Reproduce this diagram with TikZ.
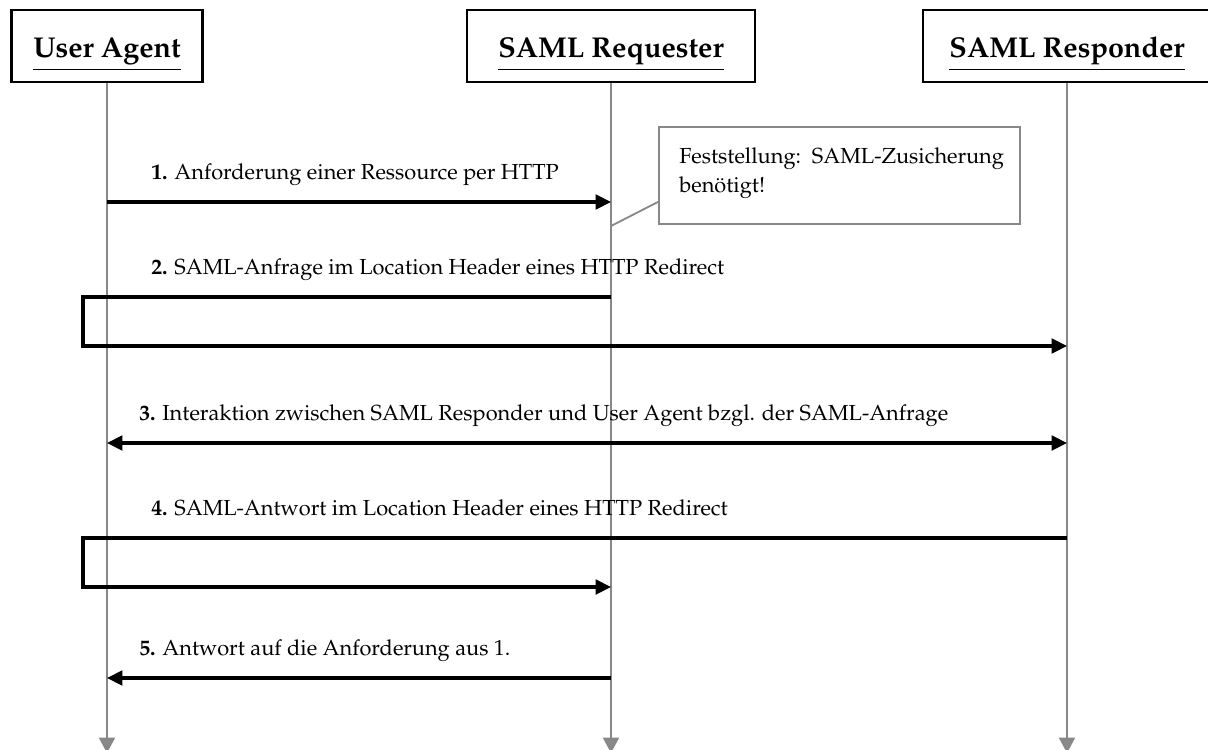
\documentclass[tikz,border=0pt]{standalone}
\usepackage[T1]{fontenc}
\usepackage{mathpazo}
\usetikzlibrary{arrows.meta}
\definecolor{lifegray}{RGB}{136,136,136}
\tikzset{
  actor/.style={draw=black, line width=1.6pt, minimum height=51pt, inner sep=0pt, text height=20pt, text depth=3pt, font=\fontsize{20.4}{24}\selectfont\bfseries},
  lifeline/.style={draw=lifegray, line width=1.3pt, -{Triangle[length=11pt,width=11.5pt]}},
  msg/.style={draw=black, line width=2.2pt, line join=miter, -{Triangle[length=11pt,width=10.5pt]}},
  lbl/.style={anchor=base west, inner sep=0pt, font=\fontsize{15.5}{18}\selectfont},
  note/.style={draw=lifegray, line width=1.3pt, fill=white, minimum width=257pt, minimum height=69pt, inner sep=0pt}
}
\begin{document}
\begin{tikzpicture}[x=0.025cm, y=-0.025cm, line cap=butt]
  \useasboundingbox (0,0) rectangle (1208,749);

  % Teilnehmer
  \node[actor, minimum width=136pt] (ua) at (107,46) {\underline{User Agent}};
  \node[actor, minimum width=205pt] (rq) at (611,46) {\underline{SAML Requester}};
  \node[actor, minimum width=205pt] (rs) at (1067,46) {\underline{SAML Responder}};

  % Lebenslinien
  \coordinate (bottom) at (0,753);
  \draw[lifeline] (ua.south) -- (ua |- bottom);
  \draw[lifeline] (rq.south) -- (rq |- bottom);
  \draw[lifeline] (rs.south) -- (rs |- bottom);

  % Hoehen der Nachrichten
  \coordinate (m1) at (0,202);
  \coordinate (m2a) at (83,297);
  \coordinate (m2b) at (83,346);
  \coordinate (m3) at (0,443);
  \coordinate (m4a) at (83,538);
  \coordinate (m4b) at (83,587);
  \coordinate (m5) at (0,678);

  % Notiz
  \node[note] (feststellung) at (839.5,175.5) {};
  \node[lbl, anchor=base west] (nt1) at (679,163) {Feststellung:\ \ SAML-Zusicherung};
  \node[lbl, anchor=base west] (nt2) at (679,192) {ben\"otigt!};
  \coordinate (ntfoot) at (611,226);
  \draw[draw=lifegray, line width=1.3pt] (ntfoot) -- (feststellung.west |- 0,202);

  % Nachrichten
  \draw[msg] (ua |- m1) -- (rq |- m1);
  \node[lbl] (l1) at (151,179) {\textbf{1.} Anforderung einer Ressource per HTTP};

  \draw[msg] (rq |- m2a) -- (m2a) -- (m2b) -- (rs |- m2b);
  \node[lbl] (l2) at (151,274) {\textbf{2.} SAML-Anfrage im Location Header eines HTTP Redirect};

  \draw[msg, {Triangle[length=11pt,width=10.5pt]}-{Triangle[length=11pt,width=10.5pt]}] (ua |- m3) -- (rs |- m3);
  \node[lbl] (l3) at (139,420) {\textbf{3.} Interaktion zwischen SAML Responder und User Agent bzgl. der SAML-Anfrage};

  \draw[msg] (rs |- m4a) -- (m4a) -- (m4b) -- (rq |- m4b);
  \node[lbl] (l4) at (151,515) {\textbf{4.} SAML-Antwort im Location Header eines HTTP Redirect};

  \draw[msg] (rq |- m5) -- (ua |- m5);
  \node[lbl] (l5) at (139,655) {\textbf{5.} Antwort auf die Anforderung aus 1.};
\end{tikzpicture}
\end{document}
